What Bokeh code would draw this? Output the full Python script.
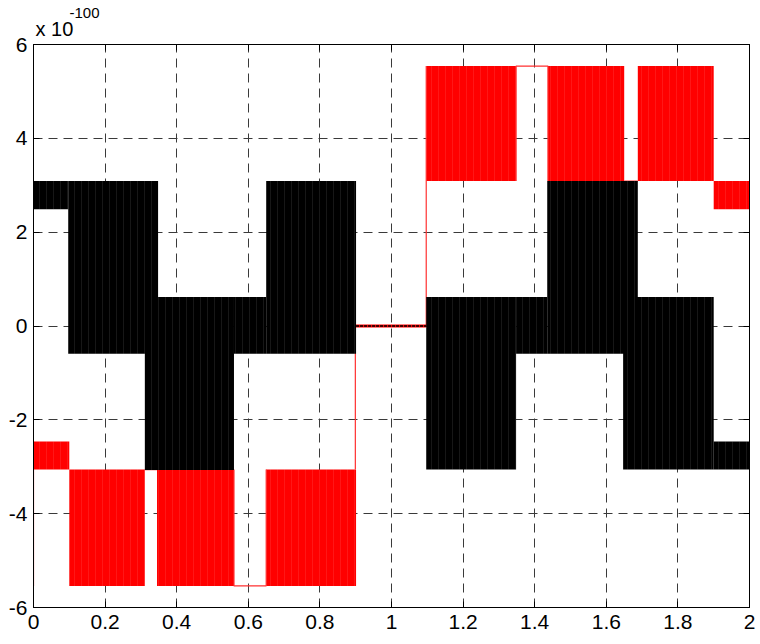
from bokeh.plotting import figure
from bokeh.models import Range1d, LinearAxis, FixedTicker, Title
from bokeh.embed import file_html
from bokeh.resources import INLINE

# ---- data (time in s, value in units of 1e-100) ----
# black switching blocks: start, end, lower level, upper level
black_t0 = [0.0, 0.097, 0.311, 0.560, 0.650, 1.097, 1.348, 1.435, 1.647, 1.900]
black_t1 = [0.097, 0.348, 0.560, 0.650, 0.901, 1.348, 1.435, 1.688, 1.900, 2.0]
black_lo = [2.49, -0.59, -3.07, -0.59, -0.59, -3.06, -0.59, -0.59, -3.06, -3.06]
black_hi = [3.09, 3.09, 0.62, 0.62, 3.09, 0.62, 0.62, 3.09, 0.62, -2.46]

# red switching blocks
red_t0 = [0.0, 0.100, 0.345, 0.650, 1.097, 1.437, 1.688, 1.900]
red_t1 = [0.100, 0.311, 0.560, 0.901, 1.348, 1.650, 1.900, 2.0]
red_lo = [-3.06, -5.54, -5.54, -5.54, 3.09, 3.09, 3.09, 2.49]
red_hi = [-2.46, -3.06, -3.06, -3.06, 5.54, 5.54, 5.54, 3.09]

# red non-switching (constant) stretches
red_flat_t0 = [0.311, 1.650]
red_flat_t1 = [0.345, 1.688]
red_flat_v = [-3.06, 3.09]
red_path_t = [0.560, 0.560, 0.650, 0.650]
red_path_v = [-3.06, -5.54, -5.54, -3.06]
red_path2_t = [1.348, 1.348, 1.437, 1.437]
red_path2_v = [3.09, 5.54, 5.54, 3.09]

# red transition through zero
red_zero_t = [0.899, 0.899, 1.097, 1.097]
red_zero_v = [-3.06, 0.0, 0.0, 5.54]
# near-zero stretch
black_zero_t = [0.901, 1.097]
black_zero_v = [0.0, 0.0]

x_ticks = [0, 0.2, 0.4, 0.6, 0.8, 1.0, 1.2, 1.4, 1.6, 1.8, 2.0]
x_tick_labels = ["0", "0.2", "0.4", "0.6", "0.8", "1", "1.2", "1.4", "1.6", "1.8", "2"]
y_ticks = [-6, -4, -2, 0, 2, 4, 6]
y_tick_labels = ["-6", "-4", "-2", "0", "2", "4", "6"]
exp_base = "x 10"
exp_power = "-100"

FONT = "Liberation Sans"

p = figure(width=760, height=644, output_backend="svg", toolbar_location=None,
           x_range=Range1d(0, 2), y_range=Range1d(-6, 6),
           min_border_left=33, min_border_right=11, min_border_top=44, min_border_bottom=37,
           background_fill_color="white", border_fill_color="white")
p.outline_line_color = "black"
p.outline_line_width = 1

# grid
for g, ticks in ((p.xgrid, x_ticks), (p.ygrid, y_ticks)):
    g.ticker = FixedTicker(ticks=ticks)
    g.grid_line_color = "#3a3a3a"
    g.grid_line_dash = "9 6"
    g.grid_line_width = 1

# axes
def style_axis(ax, ticks, labels, show):
    ax.ticker = FixedTicker(ticks=ticks)
    ax.major_label_overrides = {t: l for t, l in zip(ticks, labels)}
    ax.axis_line_color = "black"
    ax.major_tick_line_color = "black"
    ax.major_tick_in = 6
    ax.major_tick_out = 0
    ax.minor_tick_line_color = None
    ax.major_label_text_font = FONT
    ax.major_label_text_font_size = "21px"
    ax.major_label_text_color = "black" if show else None

style_axis(p.xaxis[0], x_ticks, x_tick_labels, True)
style_axis(p.yaxis[0], y_ticks, y_tick_labels, True)
p.xaxis[0].major_label_standoff = 7
p.yaxis[0].major_label_standoff = 6

top = LinearAxis()
style_axis(top, x_ticks, ["" for _ in x_ticks], False)
top.major_label_text_font_size = "1px"
top.major_label_standoff = 0
p.add_layout(top, "above")
right = LinearAxis()
style_axis(right, y_ticks, ["" for _ in y_ticks], False)
right.major_label_text_font_size = "1px"
right.major_label_standoff = 0
p.add_layout(right, "right")

# exponent label (two stacked titles: base nearer the frame, power above it)
t_base = Title(text=exp_base, align="left", offset=2, standoff=10,
               text_font=FONT, text_font_size="20px", text_font_style="normal",
               text_color="black")
t_pow = Title(text=exp_power, align="left", offset=36, standoff=-14,
              text_font=FONT, text_font_size="15px", text_font_style="normal",
              text_color="black")
p.add_layout(t_base, "above")
p.add_layout(t_pow, "above")

HATCH = dict(hatch_pattern="|", hatch_color="white", hatch_alpha=0.18, hatch_scale=7, hatch_weight=0.5)

# red signal (drawn first, under black)
p.quad(left=red_t0, right=red_t1, bottom=red_lo, top=red_hi,
       fill_color="#ff0000", line_color=None, **HATCH)
p.segment(x0=red_flat_t0, x1=red_flat_t1, y0=red_flat_v, y1=red_flat_v, line_color="#ff3030", line_width=1.2)
p.line(red_path_t, red_path_v, line_color="#ff3030", line_width=1.2)
p.line(red_path2_t, red_path2_v, line_color="#ff3030", line_width=1.2)
p.line(red_zero_t, red_zero_v, line_color="#ff3030", line_width=1.2)
p.line(black_zero_t, black_zero_v, line_color="#ff0000", line_width=3)
p.segment(x0=[0.0], x1=[0.0], y0=[-5.54], y1=[-2.46], line_color="#ff3030", line_width=1.2)

# black signal
p.quad(left=black_t0, right=black_t1, bottom=black_lo, top=black_hi,
       fill_color="black", line_color=None, **HATCH)
p.line(black_zero_t, black_zero_v, line_color="black", line_width=1.6, line_dash="3 1")

open("out.html", "w").write(file_html(p, INLINE))
